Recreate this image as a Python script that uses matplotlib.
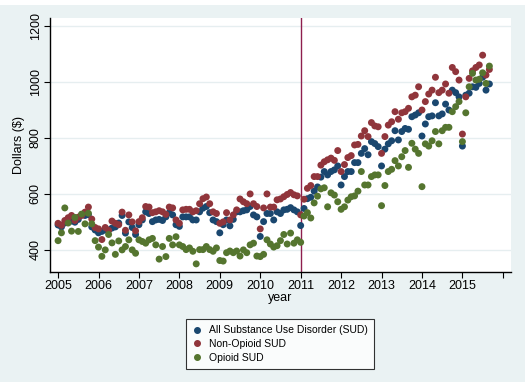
import numpy as np
import matplotlib
matplotlib.use('Agg')
import matplotlib.pyplot as plt
from matplotlib.lines import Line2D
from matplotlib.patches import Rectangle

plt.rcParams['font.family'] = ['Liberation Sans', 'DejaVu Sans']

# monthly average spending, Jan 2005 .. Sep 2015
all_sud = [489, 482, 496, 509, 503, 499, 509, 526, 523, 526, 482, 471,
           461, 466, 471, 471, 478, 482, 496, 523, 460, 500, 480, 455,
           490, 507, 536, 530, 501, 507, 509, 505, 518, 533, 525, 490,
           484, 518, 518, 518, 507, 507, 536, 549, 555, 533, 507, 501,
           461, 490, 507, 486, 509, 536, 536, 540, 543, 555, 525, 518,
           448, 501, 530, 530, 507, 536, 530, 543, 545, 551, 543, 536,
           487, 548, 583, 588, 610, 625, 660, 680, 668, 680, 686, 700,
           632, 662, 680, 680, 712, 712, 745, 762, 740, 787, 780, 769,
           700, 760, 779, 790, 826, 793, 823, 834, 831, 876, 882, 890,
           807, 850, 876, 879, 926, 879, 886, 921, 900, 971, 962, 947,
           771, 953, 960, 983, 981, 995, 1017, 971, 993]
non_opioid = [495, 488, 505, 515, 523, 505, 517, 523, 535, 553, 510, 480,
              475, 437, 480, 470, 503, 495, 490, 535, 470, 525, 500, 468,
              501, 515, 555, 553, 533, 536, 540, 536, 527, 553, 550, 507,
              495, 543, 545, 545, 536, 540, 565, 583, 589, 565, 536, 530,
              495, 500, 533, 507, 525, 543, 582, 572, 565, 600, 565, 555,
              475, 550, 600, 553, 553, 579, 582, 590, 598, 605, 597, 593,
              525, 581, 620, 630, 662, 662, 703, 715, 722, 728, 720, 755,
              680, 705, 730, 737, 775, 777, 807, 826, 805, 855, 843, 840,
              745, 805, 846, 858, 894, 867, 890, 894, 906, 947, 953, 983,
              900, 930, 957, 971, 1017, 962, 971, 993, 960, 1052, 1037, 1007,
              814, 947, 1013, 1040, 1052, 1061, 1096, 1025, 1045]
opioid = [433, 461, 550, 496, 467, 516, 466, 528, 493, 531, 493, 433,
          410, 377, 400, 455, 425, 384, 432, 400, 412, 436, 400, 388,
          436, 430, 424, 436, 441, 418, 367, 412, 376, 441, 418, 447,
          418, 412, 401, 407, 395, 350, 401, 401, 412, 401, 395, 407,
          362, 360, 390, 396, 390, 396, 378, 400, 390, 418, 424, 378,
          376, 384, 436, 421, 410, 415, 433, 455, 421, 460, 424, 436,
          427, 521, 533, 514, 568, 592, 618, 622, 554, 604, 596, 572,
          545, 554, 578, 590, 593, 610, 680, 632, 632, 662, 668, 668,
          558, 630, 680, 688, 719, 700, 733, 755, 695, 781, 760, 745,
          626, 779, 771, 790, 823, 779, 826, 838, 838, 894, 912, 930,
          787, 890, 983, 1031, 1007, 1010, 1033, 995, 1057]
series_names = ['All Substance Use Disorder (SUD)', 'Non-Opioid SUD', 'Opioid SUD']
colors = ['#1A476F', '#90353B', '#55752F']
start_year = 2005
policy_year = 2011
year_ticks = list(range(2005, 2017))
year_labels = [str(y) for y in range(2005, 2016)] + ['']
dollar_ticks = [400, 600, 800, 1000, 1200]

t = start_year + np.arange(len(all_sud)) / 12.0

fig = plt.figure(figsize=(5.25, 3.82), dpi=100, facecolor='#EAF2F3')
fig.patches.append(Rectangle((0, 0.987), 1, 0.013, transform=fig.transFigure,
                             facecolor='white', edgecolor='none', zorder=-1))
ax = fig.add_axes([0.0952, 0.288, 0.878, 0.665])
ax.set_facecolor('white')

for vals, c in zip([all_sud, non_opioid, opioid], colors):
    ax.scatter(t, vals, s=25, color=c, edgecolors='none', zorder=3)

ax.axvline(policy_year, color='#8E1F4E', lw=1, zorder=2)

ax.set_xlim(2004.8, 2016.2)
ax.set_ylim(321, 1229)
ax.set_xticks(year_ticks)
ax.set_xticklabels(year_labels, fontsize=9)
ax.set_yticks(dollar_ticks)
ax.set_yticklabels([str(v) for v in dollar_ticks], fontsize=9, rotation=90, va='center')
ax.grid(axis='y', color='#E6EEF0', lw=1)
ax.set_axisbelow(True)
ax.tick_params(axis='both', direction='out', length=4, width=0.8, colors='black', pad=2)
for s in ['top', 'right']:
    ax.spines[s].set_visible(False)
for s in ['left', 'bottom']:
    ax.spines[s].set_linewidth(1)
ax.set_xlabel('year', fontsize=9, labelpad=0)
ax.set_ylabel('Dollars ($)', fontsize=9, labelpad=3)

handles = [Line2D([], [], marker='o', linestyle='none', color=c, markersize=4)
           for c in colors]
leg = fig.legend(handles, series_names, loc='upper center',
                 bbox_to_anchor=(0.533, 0.178), fontsize=7.5, frameon=True,
                 fancybox=False, edgecolor='black', handletextpad=0.6,
                 handlelength=1.0, borderpad=0.6, labelspacing=0.35)
leg.get_frame().set_linewidth(0.8)

plt.savefig('out.png', dpi=100, facecolor=fig.get_facecolor())
